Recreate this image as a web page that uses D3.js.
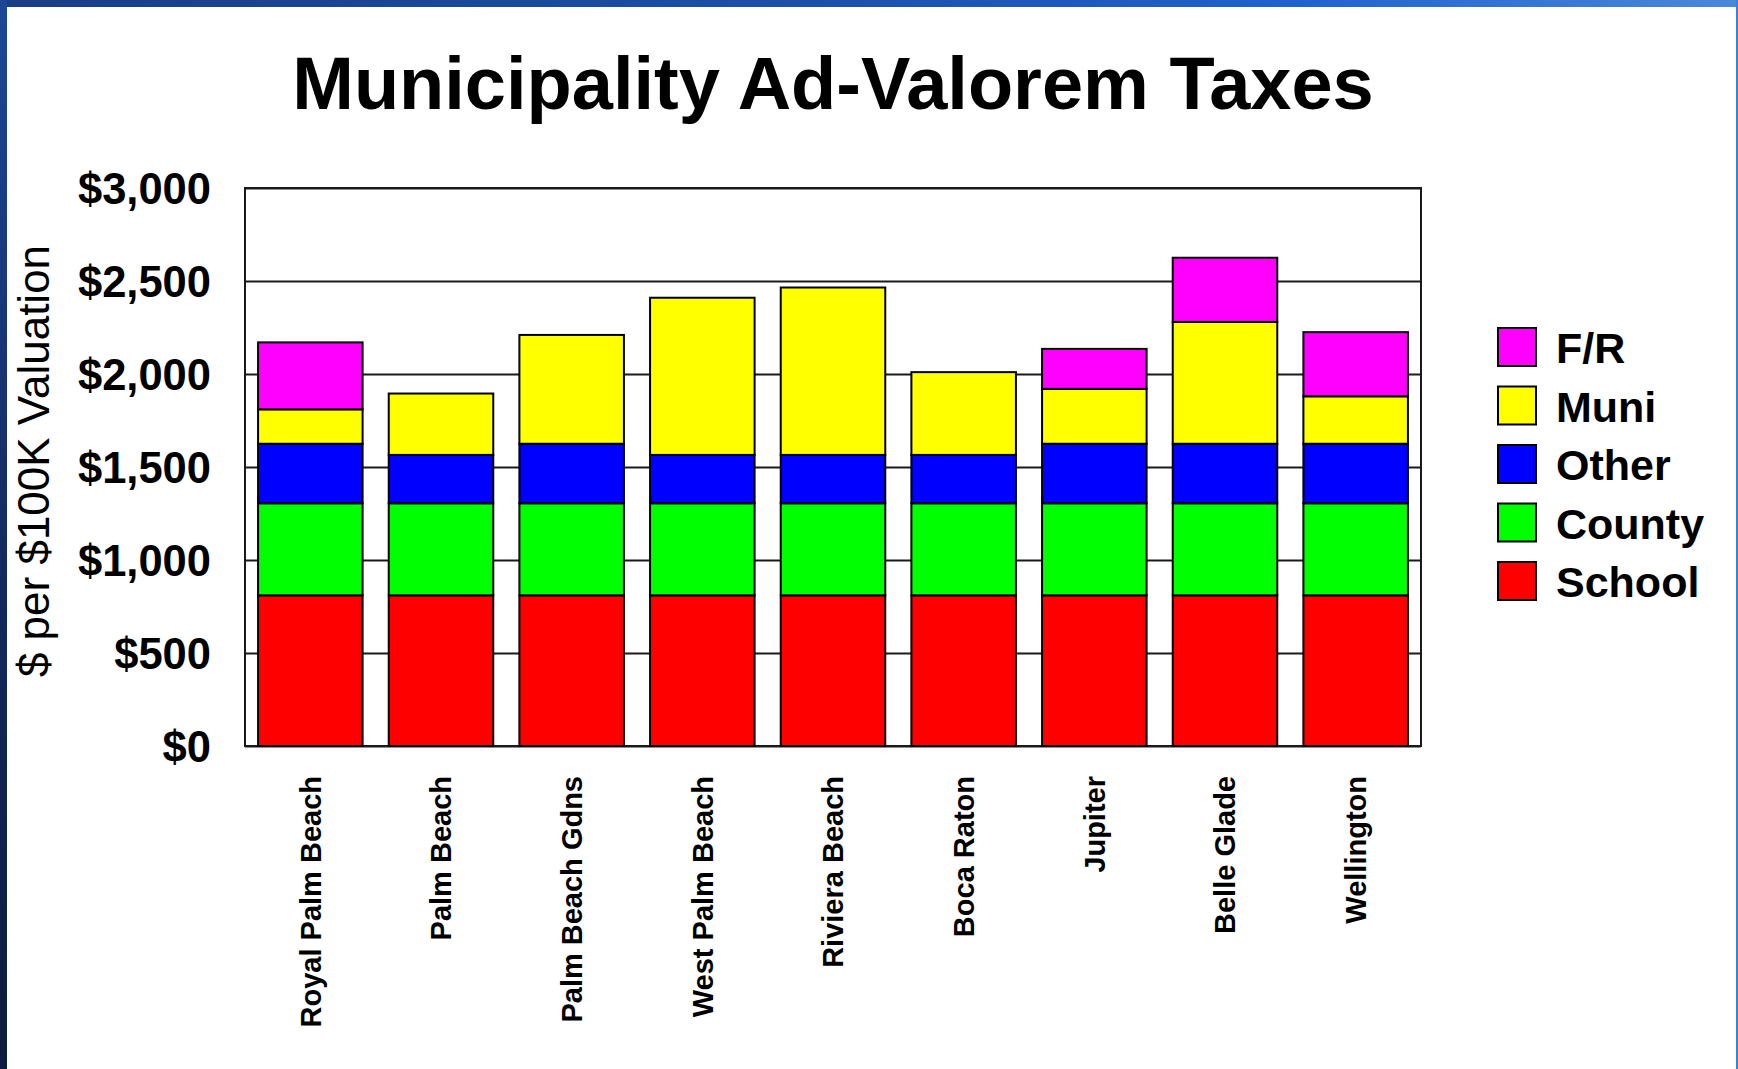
<!DOCTYPE html>
<html>
<head>
<meta charset="utf-8">
<script src="https://cdnjs.cloudflare.com/ajax/libs/d3/7.8.5/d3.min.js"></script>
<style>
    body { margin: 0; background: #ffffff; }
    text { font-family: "Liberation Sans", Arial, sans-serif; }
    .tick-label { font-weight: bold; font-size: 43.5px; fill: #000; }
    .x-label { font-weight: bold; font-size: 29px; fill: #000; }
    .legend-label { font-weight: bold; font-size: 43px; fill: #000; }
</style>
</head>
<body>
<div id="chart-area"></div>
<script>

// Data ($ per $100K valuation)
var municipalities = ["Royal Palm Beach", "Palm Beach", "Palm Beach Gdns", "West Palm Beach",
    "Riviera Beach", "Boca Raton", "Jupiter", "Belle Glade", "Wellington"];
var schoolTax = [810, 810, 810, 810, 810, 810, 810, 810, 810];
var countyTax = [495, 495, 495, 495, 495, 495, 495, 495, 495];
var otherTax = [320, 260, 320, 260, 260, 260, 320, 320, 320];
var muniTax = [185, 330, 585, 845, 900, 445, 295, 655, 255];
var fireRescueTax = [360, 0, 0, 0, 0, 0, 215, 345, 345];

var seriesKeys = ["School", "County", "Other", "Muni", "F/R"];
var seriesColors = ["#ff0000", "#00ff00", "#0000ff", "#ffff00", "#ff00ff"];
var yTicks = [0, 500, 1000, 1500, 2000, 2500, 3000];


/*
 *  TaxChart - Object constructor function
 *  @param _parentElement   -- HTML element in which to draw the visualization
 */

TaxChart = function(_parentElement) {
    this.parentElement = _parentElement;
    this.initVis();
};


TaxChart.prototype.initVis = function() {
    var vis = this;

    vis.totalWidth = 1738;
    vis.totalHeight = 1069;
    vis.margin = { top: 188, right: 317, bottom: 323, left: 245 };
    vis.width = vis.totalWidth - vis.margin.left - vis.margin.right;
    vis.height = vis.totalHeight - vis.margin.top - vis.margin.bottom;

    vis.root = d3.select("#" + vis.parentElement).append("svg")
        .attr("width", vis.totalWidth)
        .attr("height", vis.totalHeight);

    // slide frame (blue strips on the edges)
    var defs = vis.root.append("defs");
    var topGrad = defs.append("linearGradient").attr("id", "topGrad")
        .attr("x1", "0%").attr("x2", "100%").attr("y1", "0%").attr("y2", "0%");
    topGrad.append("stop").attr("offset", "0%").attr("stop-color", "#1a3d84");
    topGrad.append("stop").attr("offset", "45%").attr("stop-color", "#1b4fa8");
    topGrad.append("stop").attr("offset", "75%").attr("stop-color", "#2063cc");
    topGrad.append("stop").attr("offset", "100%").attr("stop-color", "#4a88da");

    var leftGrad = defs.append("linearGradient").attr("id", "leftGrad")
        .attr("x1", "0%").attr("x2", "0%").attr("y1", "0%").attr("y2", "100%");
    leftGrad.append("stop").attr("offset", "0%").attr("stop-color", "#1c4796");
    leftGrad.append("stop").attr("offset", "55%").attr("stop-color", "#13295c");
    leftGrad.append("stop").attr("offset", "100%").attr("stop-color", "#0d1b3c");

    vis.root.append("rect")
        .attr("width", vis.totalWidth).attr("height", vis.totalHeight)
        .attr("fill", "#ffffff");
    vis.root.append("rect")
        .attr("x", 0).attr("y", 0)
        .attr("width", vis.totalWidth).attr("height", 7)
        .attr("fill", "url(#topGrad)");
    vis.root.append("rect")
        .attr("x", 0).attr("y", 0)
        .attr("width", 7).attr("height", vis.totalHeight)
        .attr("fill", "url(#leftGrad)");
    vis.root.append("rect")
        .attr("x", vis.totalWidth - 2).attr("y", 0)
        .attr("width", 2).attr("height", vis.totalHeight)
        .attr("fill", "#3f7fd6");

    vis.svg = vis.root.append("g")
        .attr("transform", "translate(" + vis.margin.left + "," + vis.margin.top + ")");

    // Scales and axes
    vis.x = d3.scaleBand()
        .domain(municipalities)
        .range([0, vis.width])
        .paddingInner(0.2)
        .paddingOuter(0.1);

    vis.y = d3.scaleLinear()
        .domain([0, 3000])
        .range([vis.height, 0]);

    vis.color = d3.scaleOrdinal()
        .domain(seriesKeys)
        .range(seriesColors);

    vis.yAxis = d3.axisLeft(vis.y)
        .tickValues(yTicks)
        .tickSize(0)
        .tickPadding(34)
        .tickFormat(d3.format("$,.0f"));

    vis.grid = d3.axisLeft(vis.y)
        .tickValues(yTicks)
        .tickSize(-vis.width)
        .tickFormat("");

    vis.xAxis = d3.axisBottom(vis.x)
        .tickSize(0);

    vis.wrangleData();
};


TaxChart.prototype.wrangleData = function() {
    var vis = this;

    vis.displayData = municipalities.map(function(name, i) {
        return {
            name: name,
            "School": schoolTax[i],
            "County": countyTax[i],
            "Other": otherTax[i],
            "Muni": muniTax[i],
            "F/R": fireRescueTax[i]
        };
    });

    vis.stacked = d3.stack().keys(seriesKeys)(vis.displayData);

    vis.updateVis();
};


TaxChart.prototype.updateVis = function() {
    var vis = this;

    // gridlines
    vis.svg.append("g")
        .attr("class", "grid")
        .call(vis.grid)
        .call(function(g) { g.select(".domain").remove(); })
        .selectAll("line")
        .attr("stroke", "#1a1a1a")
        .attr("stroke-width", 2);

    // plot frame
    vis.svg.append("rect")
        .attr("x", 0).attr("y", 0)
        .attr("width", vis.width).attr("height", vis.height)
        .attr("fill", "none")
        .attr("stroke", "#1a1a1a")
        .attr("stroke-width", 2);

    // stacked bars
    var layers = vis.svg.selectAll(".layer")
        .data(vis.stacked)
        .enter().append("g")
        .attr("class", "layer")
        .attr("fill", function(d) { return vis.color(d.key); });

    layers.selectAll("rect")
        .data(function(d) { return d.filter(function(s) { return s[1] > s[0]; }); })
        .enter().append("rect")
        .attr("x", function(d) { return vis.x(d.data.name); })
        .attr("width", vis.x.bandwidth())
        .attr("y", function(d) { return vis.y(d[1]); })
        .attr("height", function(d) { return vis.y(d[0]) - vis.y(d[1]); })
        .attr("stroke", "#000")
        .attr("stroke-width", 2);

    // y axis labels
    vis.svg.append("g")
        .attr("class", "y-axis axis")
        .call(vis.yAxis)
        .call(function(g) { g.select(".domain").remove(); })
        .selectAll("text")
        .attr("class", "tick-label")
        .attr("dy", "0.36em");

    // x axis labels (rotated)
    vis.svg.append("g")
        .attr("class", "x-axis axis")
        .attr("transform", "translate(0," + vis.height + ")")
        .call(vis.xAxis)
        .call(function(g) { g.select(".domain").remove(); })
        .selectAll("text")
        .attr("class", "x-label")
        .attr("y", 0)
        .attr("x", -30)
        .attr("dy", "0.36em")
        .attr("transform", "rotate(-90)")
        .style("text-anchor", "end");

    // title
    vis.svg.append("text")
        .attr("x", vis.width / 2)
        .attr("y", -79)
        .attr("text-anchor", "middle")
        .style("font-size", "74px")
        .style("font-weight", "bold")
        .text("Municipality Ad-Valorem Taxes");

    // y axis title
    vis.root.append("text")
        .attr("transform", "translate(49," + (vis.margin.top + vis.height / 2 - 6) + ") rotate(-90)")
        .attr("text-anchor", "middle")
        .style("font-size", "44px")
        .text("$ per $100K Valuation");

    // legend
    var legend = vis.root.append("g")
        .attr("transform", "translate(1498,328)");

    var items = legend.selectAll(".legend-item")
        .data(seriesKeys.slice().reverse())
        .enter().append("g")
        .attr("class", "legend-item")
        .attr("transform", function(d, i) { return "translate(0," + (i * 58.5) + ")"; });

    items.append("rect")
        .attr("width", 38)
        .attr("height", 38)
        .attr("fill", function(d) { return vis.color(d); })
        .attr("stroke", "#000")
        .attr("stroke-width", 2);

    items.append("text")
        .attr("class", "legend-label")
        .attr("x", 58)
        .attr("y", 19)
        .attr("dy", "0.38em")
        .text(function(d) { return d; });
};

var chart = new TaxChart("chart-area");

</script>
</body>
</html>
